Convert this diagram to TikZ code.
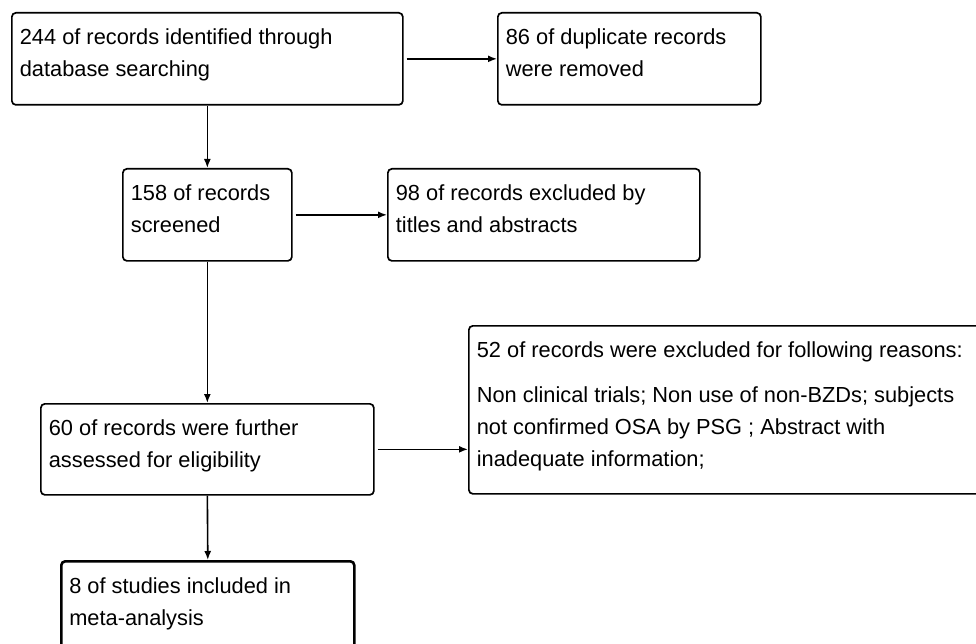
\documentclass[tikz,border=0pt]{standalone}
\usepackage{fontspec}
\setmainfont{Liberation Sans}
\usetikzlibrary{arrows.meta}
\newcommand\bxt[3]{\parbox[t][#2pt][t]{#1pt}{\setlength\parindent{0pt}\setlength\parskip{0pt}\raggedright\hfuzz=50pt\rule{0pt}{32pt}#3}}
\begin{document}
\begin{tikzpicture}[x=1pt,y=-1pt,
  flowbox/.style={draw, line width=1.7pt, rounded corners=4pt, anchor=north west,
    inner xsep=8pt, inner ysep=0pt, font=\fontsize{21.8}{32}\selectfont},
  flow/.style={line width=1.6pt, -{Latex[length=9pt,width=7pt]}}]
\fill[white] (0,0) rectangle (976,644);
\useasboundingbox (0,0) rectangle (976,644);
\node[flowbox] (b1) at (11,12) {\bxt{375}{92}{\mbox{244 of records identified through}\\\mbox{database searching}}};
\node[flowbox] (b2) at (497,12) {\bxt{247}{92}{\mbox{86 of duplicate records}\\\mbox{were removed}}};
\node[flowbox] (b3) at (122,168) {\bxt{153}{92}{\mbox{158 of records}\\\mbox{screened}}};
\node[flowbox] (b4) at (387,168) {\bxt{296}{92}{\mbox{98 of records excluded by}\\\mbox{titles and abstracts}}};
\node[flowbox] (b5) at (40,403) {\bxt{317}{91}{\mbox{60 of records were further}\\\mbox{assessed for eligibility}}};
\node[flowbox] (b6) at (468,325) {\bxt{504}{168}{\mbox{52 of records were excluded for following reasons:}\par\vspace{13pt}\mbox{Non clinical trials; Non use of non-BZDs; subjects}\\\mbox{not confirmed OSA by PSG ; Abstract with}\\\mbox{inadequate information;}}};
\node[flowbox, line width=2.6pt] (b7) at (60,560) {\bxt{277}{100}{\mbox{8 of studies included in}\\\mbox{meta-analysis}}};
\draw[flow] ([xshift=3pt]b1.east) -- (b2.west);
\draw[flow] (b1.south) -- (b3.north);
\draw[flow] ([xshift=3pt]b3.east) -- (b4.west);
\draw[flow] (b3.south) -- (b5.north);
\draw[flow] ([xshift=3pt]b5.east) -- (b5.east -| b6.west);
\draw[flow] (b5.south) -- (b7.north);
\end{tikzpicture}
\end{document}
